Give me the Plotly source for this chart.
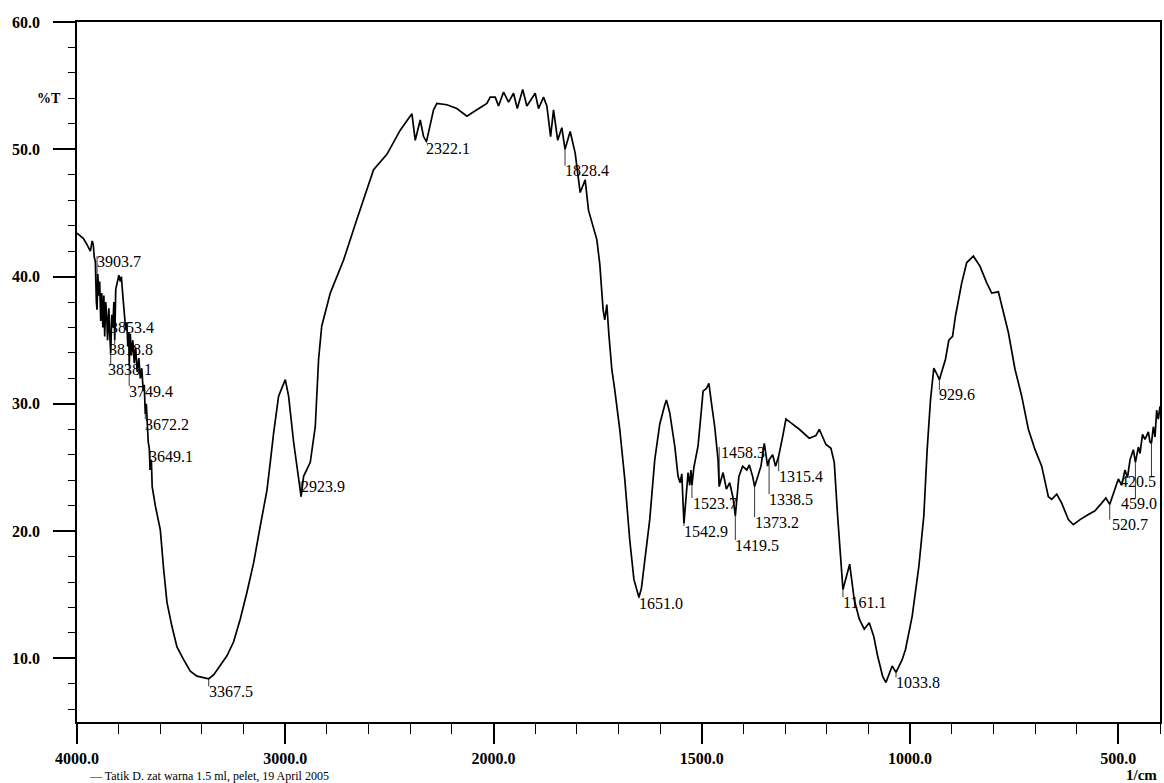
import numpy as np
import plotly.graph_objects as go

# ---- spectrum data (wavenumber 1/cm, %T) ----
wavenumber = [
    4000, 3984, 3970, 3955, 3946, 3936, 3927, 3922, 3917, 3912, 3907, 3903.7, 3900, 3895, 3891,
    3886, 3881, 3876, 3871, 3867, 3862, 3857, 3853.4, 3847, 3843, 3838.1, 3833, 3828, 3823,
    3818.8, 3814, 3807, 3799, 3792, 3787, 3780, 3773, 3766, 3761, 3756, 3751, 3749.4, 3744,
    3739, 3732, 3725, 3718, 3711, 3703, 3696, 3689, 3682, 3677, 3672.2, 3667, 3662, 3658,
    3653, 3649.1, 3643, 3639, 3624, 3610, 3600, 3584, 3568, 3544, 3520, 3488, 3456, 3424,
    3392, 3367.5, 3344, 3312, 3280, 3248, 3216, 3184, 3152, 3120, 3088, 3072, 3056, 3032,
    3000, 2984, 2960, 2923.9, 2912, 2880, 2856, 2840, 2825, 2784, 2720, 2656, 2576, 2512,
    2448, 2392, 2376, 2352, 2336, 2322.1, 2288, 2272, 2224, 2176, 2128, 2080, 2032, 2016,
    1996, 1988, 1976, 1964, 1952, 1943, 1930, 1920, 1911, 1900, 1892, 1880, 1872, 1863,
    1856, 1846, 1836, 1828.4, 1816, 1804, 1792, 1780, 1772, 1760, 1752, 1745, 1737, 1733,
    1728, 1723, 1716, 1709, 1697, 1685, 1673, 1663, 1651.0, 1645, 1637, 1625, 1613, 1601,
    1589, 1585, 1577, 1565, 1557, 1552, 1548, 1542.9, 1533, 1529, 1526, 1523.7, 1519, 1509,
    1501, 1497, 1489, 1483, 1477, 1469, 1461, 1458.3, 1449, 1441, 1433, 1425, 1419.5, 1411,
    1402, 1392, 1386, 1378, 1373.2, 1358, 1350, 1342, 1338.5, 1330, 1323, 1315.4, 1306,
    1298, 1286, 1266, 1242, 1226, 1218, 1202, 1190, 1182, 1174, 1166, 1161.1, 1154, 1145,
    1134, 1122, 1110, 1098, 1087, 1078, 1066, 1058, 1043, 1033.8, 1019, 1011, 995, 979,
    967, 959, 951, 943, 935, 929.6, 915, 907, 898, 891, 876, 864, 848, 832, 816, 804, 788,
    764, 748, 732, 716, 700, 684, 668, 660, 648, 636, 620, 608, 592, 572, 556, 540, 530,
    520.7, 512, 500, 492, 484, 478, 472, 464, 459.0, 452, 448, 442, 436, 428, 424, 420.5,
    416, 412, 408, 404, 400,
]
transmittance = [
    43.4, 43.2, 43.0, 42.6, 42.3, 42.0, 42.8, 42.5, 41.5, 41.2, 38.0, 37.4, 40.2, 38.5, 39.6,
    36.5, 38.7, 36.0, 38.5, 35.3, 38.0, 36.8, 35.0, 37.5, 35.5, 34.0, 37.0, 36.0, 38.0,
    35.0, 39.0, 39.5, 40.1, 39.6, 40.0, 38.5, 37.2, 35.8, 36.4, 34.5, 35.6, 33.0, 35.5,
    33.8, 35.0, 33.2, 34.4, 32.5, 33.6, 32.0, 32.8, 31.0, 31.5, 29.2, 30.0, 28.0, 27.0,
    26.5, 24.8, 25.6, 23.5, 22.0, 21.0, 20.1, 17.0, 14.4, 12.5, 10.9, 9.9, 9.0, 8.6,
    8.5, 8.4, 8.7, 9.5, 10.2, 11.3, 13.1, 15.2, 17.5, 20.4, 23.2, 25.4, 27.7, 30.6,
    31.9, 30.6, 27.0, 22.7, 24.3, 25.4, 28.2, 33.5, 36.1, 38.7, 41.3, 44.5, 48.4, 49.6,
    51.5, 52.8, 50.7, 52.3, 51.0, 50.6, 53.1, 53.6, 53.5, 53.2, 52.6, 53.1, 53.6, 54.1,
    54.1, 53.4, 54.5, 53.7, 54.4, 53.2, 54.7, 53.4, 53.9, 54.4, 53.2, 54.1, 53.4, 51.0,
    53.1, 50.7, 51.7, 50.0, 51.4, 49.7, 46.6, 47.6, 45.2, 43.9, 42.9, 41.0, 37.4, 36.6,
    37.8, 35.4, 32.7, 31.1, 28.0, 24.1, 19.3, 16.2, 14.8, 15.5, 17.8, 20.9, 25.6, 28.4,
    29.9, 30.3, 29.3, 26.7, 24.3, 23.8, 24.5, 20.6, 24.6, 23.6, 24.8, 23.6, 25.0, 26.7,
    29.5, 31.0, 31.2, 31.6, 30.1, 28.2, 25.6, 23.5, 24.6, 23.3, 23.8, 22.6, 21.2, 24.3,
    25.1, 24.8, 25.2, 24.3, 23.5, 25.1, 26.9, 25.1, 25.6, 26.0, 25.1, 25.9, 27.4,
    28.8, 28.5, 28.0, 27.3, 27.5, 28.0, 26.8, 26.5, 25.4, 21.2, 17.8, 15.4, 16.3, 17.4,
    14.6, 13.1, 12.3, 12.8, 11.7, 10.2, 8.6, 8.1, 9.4, 8.9, 9.9, 10.7, 13.3, 17.2,
    21.2, 26.4, 30.3, 32.8, 32.3, 31.9, 33.5, 35.0, 35.3, 36.9, 39.5, 41.1, 41.6, 40.8, 39.5, 38.7, 38.8,
    35.6, 32.7, 30.6, 28.0, 26.4, 25.1, 22.7, 22.5, 22.9, 22.2, 20.9, 20.5, 20.9, 21.3, 21.6, 22.2, 22.6,
    22.1, 23.0, 24.1, 23.6, 24.8, 24.2, 25.6, 26.4, 25.4, 26.6, 26.1, 27.6, 27.2, 27.8, 27.0, 26.9,
    28.2, 27.4, 29.5, 28.8, 29.8,
]

# ---- peak labels ----
peak_wn = [3903.7, 3853.4, 3818.8, 3838.1, 3749.4, 3672.2, 3649.1, 3367.5, 2923.9, 2322.1,
           1828.4, 1651.0, 1542.9, 1523.7, 1458.3, 1419.5, 1373.2, 1338.5, 1315.4, 1161.1,
           1033.8, 929.6, 420.5, 459.0, 520.7]
peak_text = ["3903.7", "3853.4", "3818.8", "3838.1", "3749.4", "3672.2", "3649.1", "3367.5",
             "2923.9", "2322.1", "1828.4", "1651.0", "1542.9", "1523.7", "1458.3", "1419.5",
             "1373.2", "1338.5", "1315.4", "1161.1", "1033.8", "929.6", "420.5", "459.0", "520.7"]
# label placement (layout): anchor wavenumber and %T of each label
label_wn = [3903.7, 3840, 3845, 3850, 3752, 3672.2, 3652, 3367.5, 2923.9, 2322.1,
            1828.4, 1651.0, 1542.9, 1520, 1455, 1419.5, 1373.2, 1338.5, 1315.4, 1161.1,
            1033.8, 929.6, 496, 493, 516]
label_T = [41.2, 36.0, 34.3, 32.7, 31.0, 28.4, 25.9, 7.4, 23.5, 50.1,
           48.3, 14.3, 20.0, 22.2, 26.2, 18.9, 20.7, 22.5, 24.3, 14.4,
           8.1, 30.7, 23.9, 22.2, 20.5]

x_tick_wn = [4000, 3000, 2000, 1500, 1000, 500]
x_tick_text = ["4000.0", "3000.0", "2000.0", "1500.0", "1000.0", "500.0"]
y_tick_vals = [10, 20, 30, 40, 50, 60]
y_tick_text = ["10.0", "20.0", "30.0", "40.0", "50.0", "60.0"]


def to_u(wn):
    """Instrument x scale: 4000-2000 compressed by 2, 2000-400 linear."""
    wn = np.asarray(wn, dtype=float)
    return np.where(wn >= 2000, (4000 - wn) / 2.0, 1000 + (2000 - wn))


wn_arr = np.array(wavenumber)
t_arr = np.array(transmittance)
u_arr = to_u(wn_arr)

fig = go.Figure()
fig.add_trace(go.Scatter(x=u_arr, y=t_arr, mode="lines",
                         line=dict(color="black", width=1.7), hoverinfo="skip",
                         showlegend=False))

# peak marker lines
mx, my = [], []
order = np.argsort(u_arr)
for pw, lt in zip(peak_wn, label_T):
    pu = float(to_u(pw))
    ct = float(np.interp(pu, u_arr[order], t_arr[order]))
    mx += [pu, pu, None]
    my += [ct, lt + 0.4, None]
fig.add_trace(go.Scatter(x=mx, y=my, mode="lines", line=dict(color="black", width=0.8),
                         hoverinfo="skip", showlegend=False))

font_family = "Liberation Serif"
for txt, lw, lt in zip(peak_text, label_wn, label_T):
    fig.add_annotation(x=float(to_u(lw)), y=lt, text=txt, showarrow=False,
                       xanchor="left", yanchor="middle", xshift=-2,
                       font=dict(family=font_family, size=16, color="black"))

fig.add_annotation(xref="paper", yref="paper", x=-0.039, y=0.904, text="%T",
                   showarrow=False, font=dict(family=font_family, size=14, color="black",
                                              weight="bold"))
fig.add_annotation(xref="paper", yref="paper", x=0.999, y=-0.0757, text="1/cm",
                   showarrow=False, xanchor="right", yanchor="middle",
                   font=dict(family=font_family, size=15, color="black", weight="bold"))
fig.add_annotation(xref="paper", yref="paper", x=0.009, y=-0.0643,
                   text="\u2014 Tatik D. zat warna 1.5 ml, pelet, 19 April 2005",
                   showarrow=False, xanchor="left", yanchor="top",
                   font=dict(family=font_family, size=12, color="black"))

fig.update_layout(
    width=1164, height=783,
    margin=dict(l=77, r=2, t=22, b=61),
    paper_bgcolor="white", plot_bgcolor="white",
    xaxis=dict(range=[0, 2600], showgrid=False, zeroline=False,
               tickmode="array", tickvals=list(to_u(x_tick_wn)), ticktext=x_tick_text,
               ticks="outside", ticklen=20, tickwidth=1.5, tickcolor="black",
               minor=dict(ticks="outside", ticklen=10, dtick=100, tick0=0,
                          tickcolor="black", tickwidth=1.2),
               showline=True, linecolor="black", linewidth=1.6, mirror=True,
               ticklabelstandoff=1,
               tickfont=dict(family=font_family, size=16, color="black", weight="bold")),
    yaxis=dict(range=[5, 60], showgrid=False, zeroline=False,
               tickmode="array", tickvals=y_tick_vals, ticktext=y_tick_text,
               ticks="outside", ticklen=22, tickwidth=1.5, tickcolor="black",
               minor=dict(ticks="outside", ticklen=7, dtick=2, tick0=0,
                          tickcolor="black", tickwidth=1.2),
               showline=True, linecolor="black", linewidth=1.6, mirror=True,
               ticklabelstandoff=10,
               tickfont=dict(family=font_family, size=16, color="black", weight="bold")),
)

fig.write_html("out.html", config={"displayModeBar": False},
               post_script="document.body.style.margin='0';document.body.style.overflow='hidden';")
